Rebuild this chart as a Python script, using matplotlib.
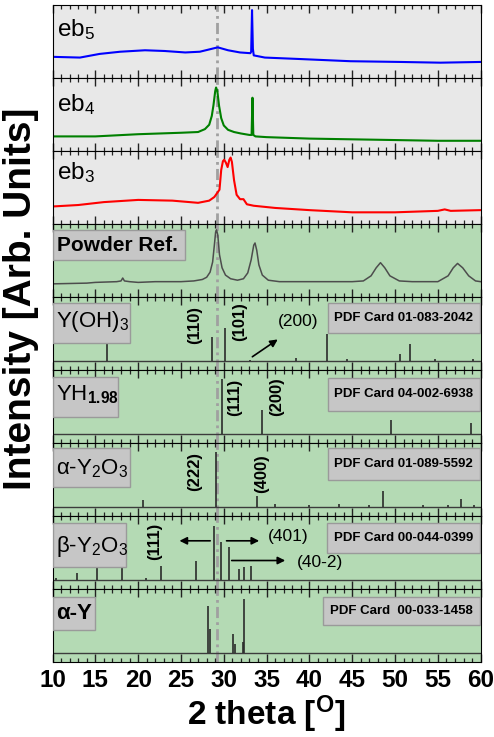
import matplotlib
matplotlib.use("Agg")
import matplotlib.pyplot as plt
from matplotlib.patches import Rectangle
from matplotlib.ticker import MultipleLocator

plt.rcParams["font.family"] = ["Liberation Sans", "DejaVu Sans"]
plt.rcParams["mathtext.fontset"] = "custom"
plt.rcParams["mathtext.rm"] = "Liberation Sans"
plt.rcParams["mathtext.it"] = "Liberation Sans:italic"
plt.rcParams["mathtext.bf"] = "Liberation Sans:bold"

# ---- measured patterns (2theta, relative intensity in panel units 0..1) ----
eb5_x = [10, 13.2, 15.5, 17.9, 20.8, 23.1, 25.5, 27.2, 28.6, 29.3, 30.5, 31.9,
         33.1, 33.2, 33.3, 33.4, 33.5, 34.8, 38.9, 44.8, 50.6, 55.3, 60]
eb5_y = [0.29, 0.28, 0.33, 0.36, 0.38, 0.37, 0.35, 0.36, 0.40, 0.42, 0.38, 0.35,
         0.34, 0.36, 0.93, 0.40, 0.31, 0.28, 0.26, 0.23, 0.22, 0.21, 0.22]

eb4_x = [10, 15, 20, 25, 27.0, 27.8, 28.3, 28.6, 28.8, 29.0, 29.1, 29.25, 29.45,
         29.7, 30.0, 30.5, 31.2, 32.0, 33.0, 33.25, 33.35, 33.45, 33.7, 35, 40,
         45, 50, 55, 60]
eb4_y = [0.20, 0.20, 0.23, 0.25, 0.26, 0.30, 0.36, 0.48, 0.63, 0.82, 0.87, 0.82,
         0.62, 0.45, 0.35, 0.29, 0.26, 0.24, 0.22, 0.22, 0.73, 0.22, 0.20, 0.19,
         0.17, 0.16, 0.15, 0.14, 0.14]

eb3_x = [10, 13, 16, 20, 24, 27, 28.3, 28.9, 29.5, 29.7, 29.9, 30.05, 30.25,
         30.45, 30.65, 30.8, 30.95, 31.2, 31.5, 31.9, 32.3, 32.7, 33.5, 36, 40,
         45, 50, 55, 55.8, 56.5, 60]
eb3_y = [0.24, 0.26, 0.30, 0.33, 0.32, 0.29, 0.32, 0.37, 0.47, 0.74, 0.86, 0.88,
         0.84, 0.78, 0.88, 0.91, 0.85, 0.60, 0.40, 0.34, 0.34, 0.27, 0.25, 0.22,
         0.19, 0.16, 0.16, 0.18, 0.20, 0.18, 0.19]

powder_x = [10, 14, 15, 17.5, 18.0, 18.2, 18.4, 19, 20, 22, 25, 26.5, 27.5, 28.0,
            28.4, 28.7, 28.9, 29.05, 29.15, 29.3, 29.5, 29.8, 30.2, 30.8, 31.6,
            32.3, 32.8, 33.2, 33.5, 33.65, 33.85, 34.1, 34.5, 35.2, 36.5, 40, 45,
            46.3, 47.2, 47.8, 48.3, 48.8, 49.4, 50.5, 52, 55, 56.2, 56.8, 57.3,
            57.9, 58.6, 59.4, 60]
powder_y = [0.18, 0.19, 0.20, 0.21, 0.22, 0.26, 0.22, 0.21, 0.20, 0.21, 0.21, 0.22,
            0.24, 0.27, 0.34, 0.48, 0.71, 0.89, 0.92, 0.85, 0.58, 0.40, 0.30, 0.25,
            0.23, 0.25, 0.33, 0.51, 0.71, 0.74, 0.64, 0.44, 0.30, 0.23, 0.21, 0.21,
            0.21, 0.22, 0.29, 0.40, 0.47, 0.40, 0.29, 0.22, 0.21, 0.21, 0.29, 0.40,
            0.46, 0.40, 0.29, 0.22, 0.21]

# ---- PDF card stick patterns (position, stick height above baseline) ----
yoh3_pos = [16.4, 28.6, 30.2, 33.1, 38.4, 42.1, 44.4, 50.6, 51.7, 54.7, 59.1]
yoh3_h = [0.24, 0.33, 0.45, 0.02, 0.04, 0.37, 0.03, 0.10, 0.23, 0.03, 0.03]

yh_pos = [29.8, 34.5, 49.5, 58.9]
yh_h = [0.75, 0.33, 0.19, 0.16]

ay2o3_pos = [20.6, 29.1, 33.85, 36.0, 39.9, 43.5, 47.0, 48.6, 53.3, 56.2, 57.7, 59.2]
ay2o3_h = [0.105, 0.75, 0.16, 0.04, 0.03, 0.04, 0.03, 0.22, 0.03, 0.03, 0.11, 0.03]

by2o3_pos = [10.4, 12.9, 15.2, 18.1, 20.9, 22.7, 26.7, 28.9, 29.7, 30.6, 31.75, 32.4, 33.2]
by2o3_h = [0.03, 0.10, 0.20, 0.19, 0.03, 0.19, 0.27, 0.74, 0.53, 0.45, 0.15, 0.18, 0.20]

ay_pos = [28.2, 28.4, 31.1, 31.35, 32.2, 32.4]
ay_h = [0.65, 0.33, 0.26, 0.12, 0.16, 0.74]

BASE = 0.12
REF_LINE = 29.2

GRAY_BG = "#e8e8e8"
GREEN_BG = "#b4dab4"
BOX_FC = "#c6c6c6"
BOX_EC = "#9a9a9a"

fig, axes = plt.subplots(9, 1, figsize=(4.94, 7.37), dpi=100, sharex=True)
fig.subplots_adjust(left=0.1063, right=0.973, top=0.9932, bottom=0.1018, hspace=0)


def label_box(ax, x0, y0, x1, y1):
    ax.add_patch(Rectangle((x0, y0), x1 - x0, y1 - y0, transform=ax.transAxes,
                           fc=BOX_FC, ec=BOX_EC, lw=1.0, zorder=3))


for ax in axes:
    ax.set_xlim(10, 60)
    ax.set_ylim(0, 1)
    ax.set_yticks([])
    ax.xaxis.set_major_locator(MultipleLocator(5))
    ax.xaxis.set_minor_locator(MultipleLocator(1))
    ax.tick_params(axis="x", which="both", direction="in", top=True, bottom=True,
                   labelbottom=False, color="#222222")
    ax.tick_params(axis="x", which="major", length=6, width=1.0)
    ax.tick_params(axis="x", which="minor", length=3, width=0.9)
    ax.axvline(REF_LINE, color="#a0a0a0", lw=2.0, ls=(0, (4, 1.5, 1, 1.5)), zorder=1)

# experimental patterns
for ax, x, y, c, lab, ly in [(axes[0], eb5_x, eb5_y, "#0000ff", r"eb$_5$", 0.66),
                             (axes[1], eb4_x, eb4_y, "#008000", r"eb$_4$", 0.63),
                             (axes[2], eb3_x, eb3_y, "#ff0000", r"eb$_3$", 0.71)]:
    ax.set_facecolor(GRAY_BG)
    ax.plot(x, y, color=c, lw=1.5, zorder=2)
    ax.text(0.01, ly, lab, transform=ax.transAxes, fontsize=17.5, va="center", ha="left")

# powder reference
ax = axes[3]
ax.set_facecolor(GREEN_BG)
ax.plot(powder_x, powder_y, color="#4d4d4d", lw=1.1, zorder=2)
label_box(ax, 0.0, 0.507, 0.31, 0.918)
ax.text(0.01, 0.71, "Powder Ref.", transform=ax.transAxes, fontsize=15,
        fontweight="bold", va="center", ha="left", zorder=4)

# stick panels
sticks = [
    (axes[4], yoh3_pos, yoh3_h, r"Y(OH)$_3$", (0.181, 0.37, 0.914), 0.66,
     "PDF Card 01-083-2042", (0.643, 0.51, 0.918)),
    (axes[5], yh_pos, yh_h, r"YH$_{\mathbf{1.98}}$", (0.153, 0.36, 0.91), 0.66,
     "PDF Card 04-002-6938", (0.643, 0.44, 0.89)),
    (axes[6], ay2o3_pos, ay2o3_h, r"α-Y$_2$O$_3$", (0.181, 0.40, 0.93), 0.65,
     "PDF Card 01-089-5592", (0.643, 0.49, 0.93)),
    (axes[7], by2o3_pos, by2o3_h, r"β-Y$_2$O$_3$", (0.172, 0.305, 0.908), 0.58,
     "PDF Card 00-044-0399", (0.641, 0.49, 0.908)),
    (axes[8], ay_pos, ay_h, "α-Y", (0.1, 0.44, 0.89), 0.66,
     "PDF Card  00-033-1458", (0.632, 0.51, 0.89)),
]
for ax, pos, h, name, nbox, ny, card, cbox in sticks:
    ax.set_facecolor(GREEN_BG)
    ax.axhline(BASE, color="#3c3c3c", lw=1.0, zorder=2)
    ax.vlines(pos, BASE, [BASE + v for v in h], color="#2b2b2b", lw=1.2, zorder=2)
    label_box(ax, 0.0, nbox[1], nbox[0], nbox[2])
    bold = name == "α-Y"
    ax.text(0.008, ny, name, transform=ax.transAxes, fontsize=16, va="center",
            ha="left", fontweight="bold" if bold else "normal", zorder=4)
    label_box(ax, cbox[0], cbox[1], 0.998, cbox[2])
    ax.text((cbox[0] + 0.998) / 2, (cbox[1] + cbox[2]) / 2, card,
            transform=ax.transAxes, fontsize=9.5, fontweight="bold",
            ha="center", va="center", zorder=4)

# hkl annotations
hkl = dict(rotation=90, fontsize=12, fontweight="bold", ha="center", va="center")
arrow = dict(arrowstyle="-|>", color="black", lw=1.2, mutation_scale=11)
axes[4].text(26.64, 0.62, "(110)", **hkl)
axes[4].text(31.9, 0.67, "(101)", **hkl)
axes[4].text(38.67, 0.67, "(200)", fontsize=12.5, ha="center", va="center")
axes[4].annotate("", xy=(36.57, 0.44), xytext=(33.07, 0.16), arrowprops=arrow)
axes[5].text(31.3, 0.62, "(111)", **hkl)
axes[5].text(36.2, 0.63, "(200)", **hkl)
axes[6].text(26.64, 0.61, "(222)", **hkl)
axes[6].text(34.46, 0.585, "(400)", **hkl)
axes[7].text(21.97, 0.65, "(111)", **hkl)
axes[7].annotate("", xy=(24.5, 0.66), xytext=(28.74, 0.66), arrowprops=arrow)
axes[7].annotate("", xy=(34.46, 0.66), xytext=(30.0, 0.66), arrowprops=arrow)
axes[7].text(37.5, 0.716, "(401)", fontsize=12.5, ha="center", va="center")
axes[7].annotate("", xy=(37.5, 0.39), xytext=(30.6, 0.39), arrowprops=arrow)
axes[7].text(41.24, 0.36, "(40-2)", fontsize=12.5, ha="center", va="center")

# bottom axis labels
axes[-1].tick_params(axis="x", which="major", labelbottom=True, labelsize=17.5, pad=5)
for t in axes[-1].get_xticklabels():
    t.set_fontweight("bold")
axes[-1].set_xlabel(r"2 theta [$^{\mathbf{O}}$]", fontsize=24, fontweight="bold", labelpad=1)

fig.text(0.042, 0.595, "Intensity [Arb. Units]", rotation=90, fontsize=28,
         fontweight="bold", ha="center", va="center")

fig.savefig("out.png", dpi=100)
plt.close(fig)
